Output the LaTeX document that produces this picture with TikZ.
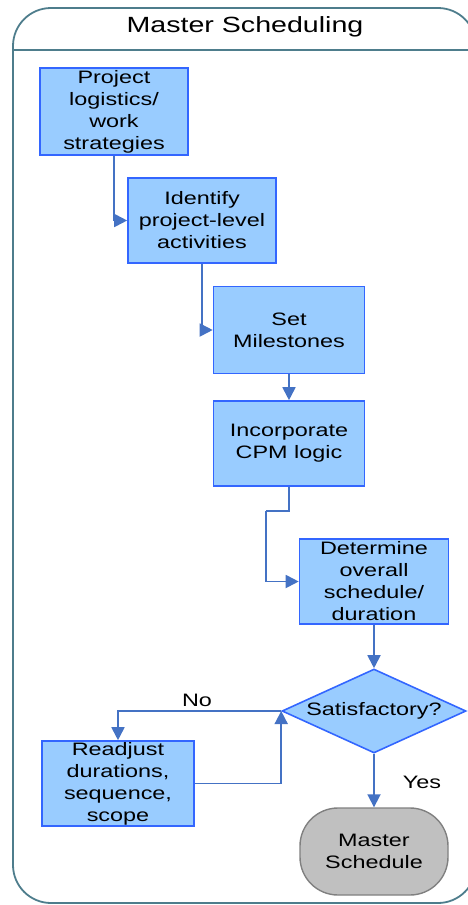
\documentclass[tikz,border=0pt]{standalone}
\usepackage{fontspec}
\setmainfont{Liberation Sans}[FakeStretch=1.3]
\usetikzlibrary{shapes.geometric,arrows.meta}
\definecolor{boxfill}{HTML}{99CCFF}
\definecolor{boxline}{HTML}{3366FF}
\definecolor{arrowc}{HTML}{4472C4}
\definecolor{framec}{HTML}{4E7D8C}
\definecolor{grayfill}{HTML}{C0C0C0}
\definecolor{grayline}{HTML}{808080}
\begin{document}
\begin{tikzpicture}[x=1pt,y=-1pt,
  every node/.style={font=\fontsize{18}{22}\selectfont},
  stepbox/.style={draw=boxline, fill=boxfill, line width=1.6pt, align=center, inner sep=0pt},
  decision/.style={shape=diamond, draw=boxline, fill=boxfill, line width=1.6pt, aspect=2.19, inner sep=0pt, minimum width=184pt, minimum height=84pt},
  endbox/.style={draw=grayline, fill=grayfill, line width=1.4pt, rounded corners=38pt, align=center, minimum width=148pt, minimum height=87pt, inner sep=0pt},
  flow/.style={draw=arrowc, line width=1.8pt, -{Triangle[length=13pt,width=13pt]}},
  lbl/.style={inner sep=0pt}
]
\useasboundingbox (0,0) rectangle (468,905);
% frame
\draw[framec, line width=1.8pt, rounded corners=38pt] (13,8) rectangle (476,903);
\draw[framec, line width=1.8pt] (13,50) -- (476,50);
\node[font=\fontsize{22}{26}\selectfont] (title) at (245,27) {Master Scheduling};

\node[stepbox, minimum width=148pt, minimum height=87pt] (b1) at (114,111.5) {Project\\logistics/\\work\\strategies};
\node[stepbox, minimum width=148pt, minimum height=85pt] (b2) at (202,220.5) {Identify\\project-level\\activities};
\node[stepbox, minimum width=151pt, minimum height=87pt] (b3) at (289,330) {Set\\Milestones};
\node[stepbox, minimum width=151pt, minimum height=85pt] (b4) at (289,443.5) {Incorporate\\CPM logic};
\node[stepbox, minimum width=149pt, minimum height=85pt] (b5) at (374,581.5) {Determine\\overall\\schedule/\\duration};
\node[decision] (dia) at (374,711) {Satisfactory?};
\node[stepbox, minimum width=152pt, minimum height=85pt] (rd) at (118,783.5) {Readjust\\durations,\\sequence,\\scope};
\node[endbox] (ms) at (374,851.5) {Master\\Schedule};

\coordinate (k1) at (266,511);

\draw[flow] (b1.south) |- (b2.west);
\draw[flow] (b2.south) |- (b3.west);
\draw[flow] (b3.south) -- (b4.north);
\draw[draw=arrowc, line width=1.8pt] (b4.south) |- (k1);
\draw[flow] (k1) |- (b5.west);
\draw[flow] (b5.south) -- (dia.north);
\draw[flow] (dia.west) -| (rd.north);
\draw[flow] (rd.east) -| (dia.west);
\draw[flow] (dia.south) -- (ms.north);
\node[lbl] (no) at (197,700) {No};
\node[lbl] (yes) at (422,782) {Yes};
\end{tikzpicture}
\end{document}
